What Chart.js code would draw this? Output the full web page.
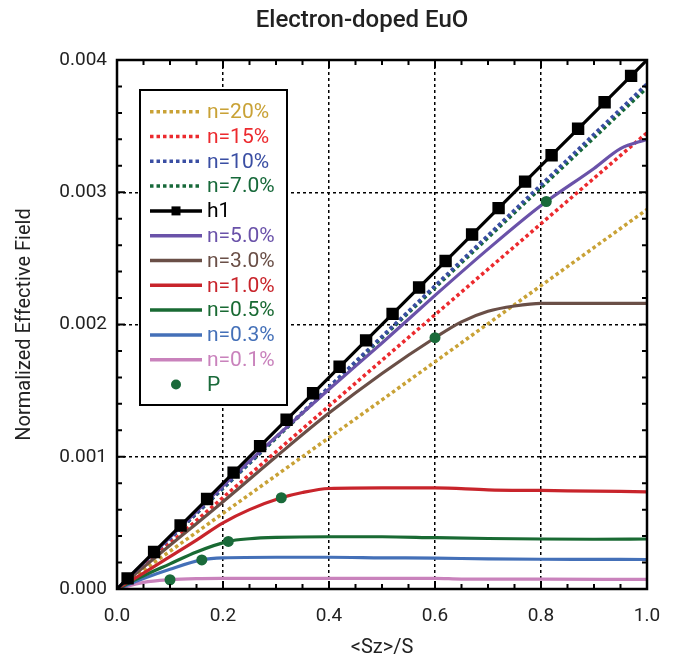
<!DOCTYPE html>
<html>
<head>
<meta charset="utf-8">
<script src="https://cdn.jsdelivr.net/npm/chart.js@4/dist/chart.umd.min.js"></script>
<style>
  html, body { margin: 0; padding: 0; background: #fff; }
  #wrap { width: 685px; height: 664px; }
</style>
</head>
<body>
<div id="wrap"><canvas id="effChart" width="685" height="664"></canvas></div>
<script>
// ------------------- Data -------------------
const h1X = [0, 0.02, 0.07, 0.12, 0.17, 0.22, 0.27, 0.32, 0.37, 0.42, 0.47, 0.52, 0.57, 0.62, 0.67, 0.72, 0.77, 0.82, 0.87, 0.92, 0.97, 1.0];
const h1Y = [0, 0.00008, 0.00028, 0.00048, 0.00068, 0.00088, 0.00108, 0.00128, 0.00148, 0.00168, 0.00188, 0.00208, 0.00228, 0.00248, 0.00268, 0.00288, 0.00308, 0.00328, 0.00348, 0.00368, 0.00388, 0.004];

const dottedX = [0, 0.5, 1.0];
const n20Y = [0, 0.00143, 0.00287];
const n15Y = [0, 0.00173, 0.00345];
const n10Y = [0, 0.00191, 0.00382];
const n7Y  = [0, 0.0019, 0.00379];

const n5X = [0, 0.1, 0.2, 0.3, 0.4, 0.5, 0.6, 0.7, 0.8, 0.9, 0.95, 1.0];
const n5Y = [0, 0.00039, 0.00078, 0.00115, 0.00151, 0.00186, 0.00222, 0.00257, 0.0029, 0.00318, 0.00333, 0.0034];

const n3X = [0, 0.1, 0.2, 0.3, 0.4, 0.5, 0.6, 0.65, 0.7, 0.75, 0.8, 0.9, 1.0];
const n3Y = [0, 0.00033, 0.00066, 0.001, 0.00133, 0.00163, 0.0019, 0.00202, 0.0021, 0.00214, 0.00216, 0.00216, 0.00216];

const n1X = [0, 0.05, 0.1, 0.15, 0.2, 0.25, 0.31, 0.35, 0.4, 0.5, 0.6, 0.7, 0.8, 0.9, 1.0];
const n1Y = [0, 0.00012, 0.000245, 0.00037, 0.0005, 0.0006, 0.00069, 0.00073, 0.00076, 0.000765, 0.000765, 0.00075, 0.000745, 0.00074, 0.000735];

const n05X = [0, 0.05, 0.1, 0.15, 0.21, 0.25, 0.3, 0.4, 0.5, 0.6, 0.7, 0.8, 0.9, 1.0];
const n05Y = [0, 0.0001, 0.00019, 0.00028, 0.00036, 0.00038, 0.00039, 0.000395, 0.000395, 0.000388, 0.000382, 0.000378, 0.000376, 0.000378];

const n03X = [0, 0.05, 0.1, 0.16, 0.2, 0.3, 0.4, 0.5, 0.6, 0.7, 0.8, 0.9, 1.0];
const n03Y = [0, 0.00008, 0.00015, 0.00022, 0.000235, 0.00024, 0.00024, 0.000236, 0.000233, 0.000228, 0.000225, 0.000224, 0.000223];

const n01X = [0, 0.05, 0.1, 0.15, 0.2, 0.4, 0.6, 0.65, 0.8, 1.0];
const n01Y = [0, 0.00005, 0.00007, 0.000078, 0.00008, 0.000081, 0.000081, 0.000075, 0.000074, 0.000073];

const pX = [0.1, 0.16, 0.21, 0.31, 0.6, 0.81];
const pY = [0.00007, 0.00022, 0.00036, 0.00069, 0.0019, 0.00293];

const xTicks = [0, 0.2, 0.4, 0.6, 0.8, 1.0];
const yTicks = [0, 0.001, 0.002, 0.003, 0.004];

// ------------------- Helper Functions -------------------

function toPoints(xs, ys) {
  return xs.map((x, i) => ({ x: x, y: ys[i] }));
}

function dotted(label, xs, ys, color) {
  return {
    label: label, data: toPoints(xs, ys), borderColor: color, backgroundColor: color,
    borderWidth: 3.5, borderDash: [3.5, 3], pointRadius: 0, dotted: true, order: 3
  };
}

function solid(label, xs, ys, color) {
  return {
    label: label, data: toPoints(xs, ys), borderColor: color, backgroundColor: color,
    borderWidth: 3.2, pointRadius: 0, cubicInterpolationMode: "monotone", order: 2
  };
}

const FONT = "Roboto, 'Open Sans', sans-serif";

// frame, inward tick marks, title
const framePlugin = {
  id: "frame",
  afterDatasetsDraw(chart) {
    const { ctx, chartArea: a, scales } = chart;
    ctx.save();
    ctx.strokeStyle = "#000";
    ctx.lineWidth = 2;
    for (let i = 0; i <= 20; i++) {
      const px = scales.x.getPixelForValue(i * 0.05);
      const len = i % 4 === 0 ? 8 : 5;
      ctx.beginPath();
      ctx.moveTo(px, a.bottom); ctx.lineTo(px, a.bottom - len);
      ctx.moveTo(px, a.top); ctx.lineTo(px, a.top + len);
      ctx.stroke();
    }
    for (let i = 0; i <= 20; i++) {
      const py = scales.y.getPixelForValue(i * 0.0002);
      const len = i % 5 === 0 ? 8 : 5;
      ctx.beginPath();
      ctx.moveTo(a.left, py); ctx.lineTo(a.left + len, py);
      ctx.moveTo(a.right, py); ctx.lineTo(a.right - len, py);
      ctx.stroke();
    }
    ctx.lineWidth = 2.5;
    ctx.strokeRect(a.left, a.top, a.right - a.left, a.bottom - a.top);

    ctx.fillStyle = "#222";
    ctx.font = "500 24px " + FONT;
    ctx.textAlign = "center";
    ctx.textBaseline = "middle";
    ctx.fillText("Electron-doped EuO", 362, 21);
    ctx.restore();
  }
};

// boxed legend with coloured labels inside the plot
const legendPlugin = {
  id: "boxLegend",
  afterDraw(chart) {
    const { ctx } = chart;
    const items = chart.data.datasets.slice().sort((a, b) => a.legendIndex - b.legendIndex);
    ctx.save();
    ctx.fillStyle = "#fff";
    ctx.fillRect(140, 90, 147, 315);
    ctx.strokeStyle = "#000";
    ctx.lineWidth = 2;
    ctx.strokeRect(140, 90, 147, 315);
    ctx.font = "21px " + FONT;
    ctx.textBaseline = "middle";
    ctx.textAlign = "left";
    items.forEach((ds, i) => {
      const y = 111.7 + i * 24.8;
      const color = ds.borderColor;
      if (ds.showLine !== false) {
        ctx.strokeStyle = color;
        ctx.lineWidth = 3.5;
        ctx.setLineDash(ds.dotted ? [3.5, 3] : []);
        ctx.beginPath();
        ctx.moveTo(150, y); ctx.lineTo(202, y);
        ctx.stroke();
        ctx.setLineDash([]);
      }
      if (ds.legendMarker === "rect") {
        ctx.fillStyle = "#000";
        ctx.fillRect(171.5, y - 4.5, 9, 9);
      } else if (ds.legendMarker === "circle") {
        ctx.fillStyle = ds.backgroundColor;
        ctx.beginPath();
        ctx.arc(176, y, 5, 0, Math.PI * 2);
        ctx.fill();
      }
      ctx.fillStyle = ds.textColor || color;
      ctx.fillText(ds.label, 207, y + 1);
    });
    ctx.restore();
  }
};

function renderChart() {
  const datasets = [
    dotted("n=20%", dottedX, n20Y, "#c9a236"),
    dotted("n=15%", dottedX, n15Y, "#ec2a2e"),
    dotted("n=10%", dottedX, n10Y, "#3a4ea3"),
    dotted("n=7.0%", dottedX, n7Y, "#17693a"),
    {
      label: "h1", data: toPoints(h1X, h1Y), borderColor: "#000", backgroundColor: "#000",
      borderWidth: 3.2, pointStyle: "rect", order: 1, legendMarker: "rect",
      pointRadius: h1X.map((x, i) => (i === 0 || i === h1X.length - 1 ? 0 : 6.5))
    },
    solid("n=5.0%", n5X, n5Y, "#6a52a9"),
    solid("n=3.0%", n3X, n3Y, "#6a4f47"),
    solid("n=1.0%", n1X, n1Y, "#c8242b"),
    solid("n=0.5%", n05X, n05Y, "#196a33"),
    solid("n=0.3%", n03X, n03Y, "#4470b8"),
    solid("n=0.1%", n01X, n01Y, "#c982bc"),
    {
      label: "P", data: toPoints(pX, pY), borderColor: "#1a6a3a", backgroundColor: "#1a6a3a",
      showLine: false, pointRadius: 5.5, pointBorderWidth: 0, order: 0, legendMarker: "circle"
    }
  ];
  datasets.forEach((ds, i) => { ds.legendIndex = i; });

  new Chart(document.getElementById("effChart"), {
    type: "line",
    data: { datasets: datasets },
    plugins: [framePlugin, legendPlugin],
    options: {
      responsive: false,
      animation: false,
      events: [],
      layout: { padding: { top: 60, left: 0, right: 38, bottom: 0 } },
      plugins: { legend: { display: false }, tooltip: { enabled: false } },
      scales: {
        x: {
          type: "linear", min: 0, max: 1,
          afterFit: (s) => { s.height = 75; },
          afterBuildTicks: (s) => { s.ticks = xTicks.map((v) => ({ value: v })); },
          ticks: { color: "#222", padding: 16, font: { family: FONT, size: 19 }, callback: (v) => v.toFixed(1) },
          grid: { color: "#000", lineWidth: 1.5, drawTicks: false },
          border: { display: false, dash: [3, 3] },
          title: { display: true, text: "<Sz>/S", color: "#222", padding: { top: 0, bottom: 4 }, font: { family: FONT, size: 20 } }
        },
        y: {
          type: "linear", min: 0, max: 0.004,
          afterFit: (s) => { s.width = 117; },
          afterBuildTicks: (s) => { s.ticks = yTicks.map((v) => ({ value: v })); },
          ticks: { color: "#222", padding: 10, font: { family: FONT, size: 19 }, callback: (v) => v.toFixed(3) },
          grid: { color: "#000", lineWidth: 1.5, drawTicks: false },
          border: { display: false, dash: [3, 3] },
          title: { display: true, text: "Normalized Effective Field", color: "#222", padding: { top: 13, bottom: 0 }, font: { family: FONT, size: 20 } }
        }
      }
    }
  });
}

document.addEventListener("DOMContentLoaded", renderChart);
</script>
</body>
</html>
